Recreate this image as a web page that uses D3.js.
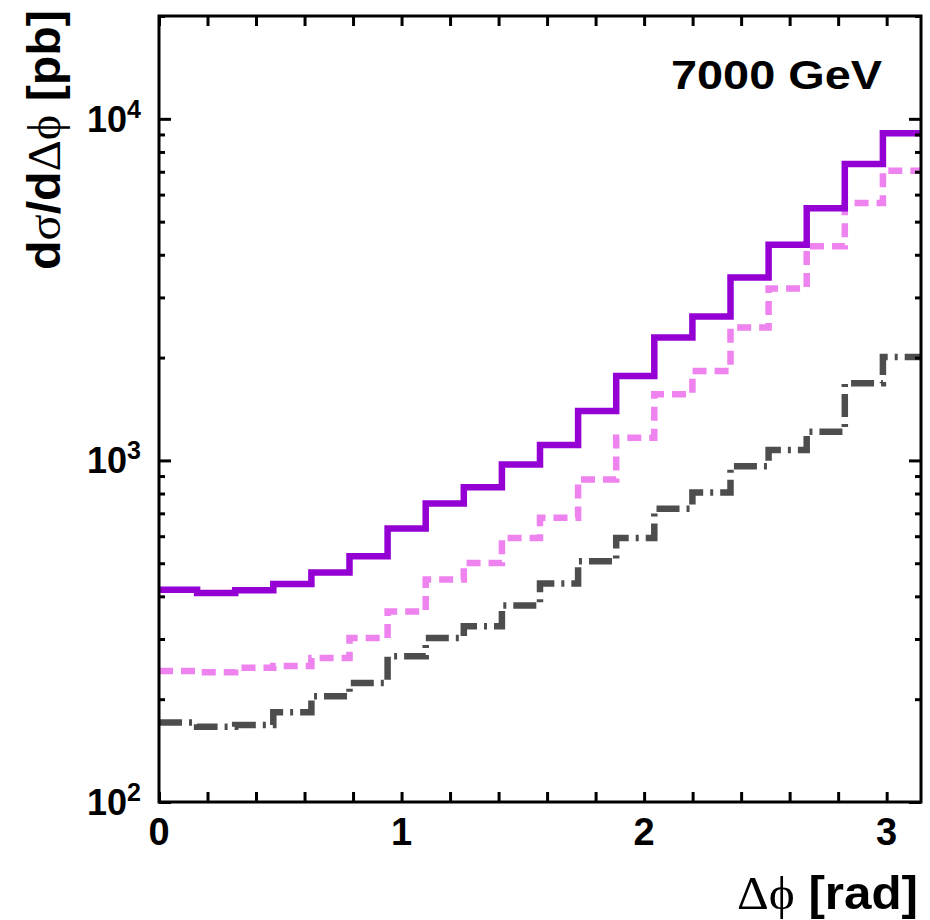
<!DOCTYPE html>
<html>
<head>
<meta charset="utf-8">
<script src="https://cdn.jsdelivr.net/npm/d3@7"></script>
<style>
  body { margin: 0; background: #ffffff; }
  text { font-family: "Liberation Sans", Arial, sans-serif; font-weight: bold; fill: #000; }
</style>
</head>
<body>
<svg id="chart" width="930" height="920"></svg>
<script>
// Differential cross section dσ/dΔφ in 20 equal Δφ bins over [0, π]
const binCount = 20;
const phiMax = Math.PI;

// Bin contents [pb], one entry per bin
const solidCurve = [418, 409, 417, 435, 470, 524, 632, 748, 835, 973,
                    1109, 1395, 1767, 2290, 2638, 3434, 4279, 5470, 7380, 9080];
const dashedCurve = [242, 240, 247, 250, 264, 302, 361, 448, 501, 593,
                     679, 880, 1166, 1561, 1828, 2449, 3188, 4233, 5672, 7050];
const dashDotCurve = [171, 166, 168, 183, 204, 223, 267, 302, 327, 376,
                      436, 507, 593, 722, 806, 962, 1072, 1214, 1682, 2009];

const xTickLabels = ["0", "1", "2", "3"];
const yDecades = [2, 3, 4];
const energyLabel = "7000 GeV";

const svg = d3.select("#chart");
const frame = { left: 159, right: 921, top: 16, bottom: 802 };

const x = d3.scaleLinear().domain([0, phiMax]).range([frame.left, frame.right]);
const y = d3.scaleLog().domain([100, 20000]).range([frame.bottom, frame.top]);

const edges = d3.range(binCount + 1).map(i => i * phiMax / binCount);

function stepPoints(vals) {
  const pts = vals.map((v, i) => [edges[i], v]);
  pts.push([edges[binCount], vals[vals.length - 1]]);
  return pts;
}

const line = d3.line()
  .x(d => x(d[0]))
  .y(d => y(d[1]))
  .curve(d3.curveStepAfter);

svg.append("clipPath").attr("id", "plotArea")
  .append("rect")
  .attr("x", frame.left).attr("y", frame.top)
  .attr("width", frame.right - frame.left).attr("height", frame.bottom - frame.top);

const curves = svg.append("g").attr("clip-path", "url(#plotArea)");

curves.append("path")
  .attr("d", line(stepPoints(dashDotCurve)))
  .attr("fill", "none")
  .attr("stroke", "#4d4d4d")
  .attr("stroke-width", 6.5)
  .attr("stroke-dasharray", "23,7,3,7");

curves.append("path")
  .attr("d", line(stepPoints(dashedCurve)))
  .attr("fill", "none")
  .attr("stroke", "#ee82ee")
  .attr("stroke-width", 6.5)
  .attr("stroke-dasharray", "14,8");

curves.append("path")
  .attr("d", line(stepPoints(solidCurve)))
  .attr("fill", "none")
  .attr("stroke", "#9400d3")
  .attr("stroke-width", 6.5);

// Axes: ticks point inward on all four sides
const xTicks = d3.range(0, 16).map(i => i * 0.2);
const majorY = yDecades.map(e => Math.pow(10, e));
const minorY = [];
yDecades.forEach(e => {
  for (let m = 2; m <= 9; m++) {
    const v = m * Math.pow(10, e);
    if (v <= 20000) minorY.push(v);
  }
});

function styleAxis(g) {
  g.select(".domain").remove();
  g.selectAll(".tick line").attr("stroke", "#000").attr("stroke-width", 3);
  g.selectAll(".tick text").remove();
}

svg.append("g").attr("transform", `translate(0,${frame.bottom})`)
  .call(d3.axisBottom(x).tickValues(xTicks).tickSizeInner(-10).tickSizeOuter(0))
  .call(styleAxis);
svg.append("g").attr("transform", `translate(0,${frame.top})`)
  .call(d3.axisTop(x).tickValues(xTicks).tickSizeInner(-10).tickSizeOuter(0))
  .call(styleAxis);

svg.append("g").attr("transform", `translate(${frame.left},0)`)
  .call(d3.axisLeft(y).tickValues(majorY).tickSizeInner(-12).tickSizeOuter(0))
  .call(styleAxis);
svg.append("g").attr("transform", `translate(${frame.left},0)`)
  .call(d3.axisLeft(y).tickValues(minorY).tickSizeInner(-6).tickSizeOuter(0))
  .call(styleAxis);
svg.append("g").attr("transform", `translate(${frame.right},0)`)
  .call(d3.axisRight(y).tickValues(majorY).tickSizeInner(-12).tickSizeOuter(0))
  .call(styleAxis);
svg.append("g").attr("transform", `translate(${frame.right},0)`)
  .call(d3.axisRight(y).tickValues(minorY).tickSizeInner(-6).tickSizeOuter(0))
  .call(styleAxis);

// Frame
svg.append("rect")
  .attr("x", frame.left).attr("y", frame.top)
  .attr("width", frame.right - frame.left).attr("height", frame.bottom - frame.top)
  .attr("fill", "none").attr("stroke", "#000").attr("stroke-width", 3);

// X tick labels
svg.append("g").selectAll("text")
  .data(xTickLabels)
  .join("text")
  .attr("x", d => x(+d))
  .attr("y", 845)
  .attr("text-anchor", "middle")
  .attr("font-size", 38)
  .text(d => d);

// Y tick labels: 10 with superscript exponent
const yLab = svg.append("g").selectAll("text")
  .data(yDecades)
  .join("text")
  .attr("x", 141)
  .attr("y", d => y(Math.pow(10, d)) + 13)
  .attr("text-anchor", "end")
  .attr("font-size", 36);
yLab.append("tspan").text("10");
yLab.append("tspan").attr("dy", -14).attr("font-size", 25).text(d => d);

// Axis titles
const xTitle = svg.append("text")
  .attr("x", 737).attr("y", 909)
  .attr("font-size", 47)
  .attr("textLength", 181)
  .attr("lengthAdjust", "spacingAndGlyphs");
xTitle.append("tspan").attr("font-family", "Liberation Serif, serif").attr("font-weight", "normal").text("Δϕ");
xTitle.append("tspan").text(" [rad]");

const yTitle = svg.append("text")
  .attr("transform", "translate(60,270) rotate(-90)")
  .attr("font-size", 46)
  .attr("textLength", 260)
  .attr("lengthAdjust", "spacingAndGlyphs");
yTitle.append("tspan").text("d");
yTitle.append("tspan").attr("font-family", "Liberation Serif, serif").attr("font-weight", "normal").text("σ");
yTitle.append("tspan").text("/d");
yTitle.append("tspan").attr("font-family", "Liberation Serif, serif").attr("font-weight", "normal").text("Δϕ");
yTitle.append("tspan").text(" [pb]");

// Beam energy label
svg.append("text")
  .attr("x", 671).attr("y", 89)
  .attr("font-size", 41)
  .attr("textLength", 211)
  .attr("lengthAdjust", "spacingAndGlyphs")
  .text(energyLabel);
</script>
</body>
</html>
